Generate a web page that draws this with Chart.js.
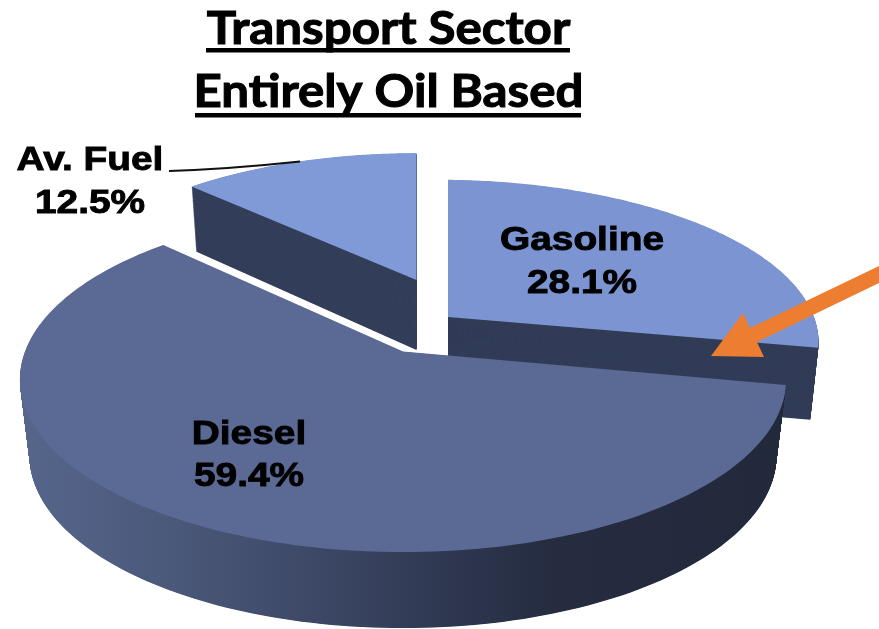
<!DOCTYPE html>
<html>
<head>
<meta charset="utf-8">
<style>html,body{margin:0;padding:0;background:#fff}canvas{display:block}</style>
<script src="https://cdn.jsdelivr.net/npm/chart.js@4"></script>
</head>
<body>
<canvas id="c" width="879" height="629"></canvas>
<script>
const categories = ['Gasoline', 'Diesel', 'Av. Fuel'];
const shares = [28.1, 59.4, 12.5];
const titleLines = ['Transport Sector', 'Entirely Oil Based'];
const topColors = ['#7c95d2', '#5a6a95', '#7f9ad6'];

// Perspective seen per slice (apex, radii, foreshortening, wall depth)
const views = [
  {cx: 448, cy: 317, rx: 377, ry: 159, p: .159, q: -.03, depth: 72, tilt: 0, shrink: .978, wall: '#323c57'},
  {cx: 403, cy: 351.5, rx: 378, ry: 168, p: .1626, q: 0, depth: 76, tilt: 0, shrink: .975, wall: 'grad'},
  {cx: 416.5, cy: 280, rx: 354, ry: 147, p: .159, q: 0, depth: 70, tilt: .054, shrink: .98, wall: '#343f5a'}
];
const labelSpots = [
  {x: 582, y1: 250, y2: 293},
  {x: 249, y1: 444, y2: 486},
  {x: 90, y1: 170, y2: 213}
];
const drawOrder = [0, 2, 1];

function project(v, a) {
  const u = Math.cos(a), n = Math.sin(a), w = 1 - v.p * n - v.q * u;
  return [v.cx + v.rx * u / w, v.cy + v.ry * n / w];
}
function outline(v, el) {
  const {startAngle, endAngle} = el.getProps(['startAngle', 'endAngle'], true);
  const pts = [[v.cx, v.cy]], steps = 160;
  for (let i = 0; i <= steps; i++) pts.push(project(v, startAngle + (endAngle - startAngle) * i / steps));
  return pts;
}
function fillPoly(ctx, pts) {
  ctx.beginPath();
  pts.forEach((p, i) => i ? ctx.lineTo(p[0], p[1]) : ctx.moveTo(p[0], p[1]));
  ctx.closePath();
  ctx.fill();
}
function stretchedText(ctx, text, x, y) {
  ctx.save();
  ctx.translate(x, y);
  ctx.scale(1.16, 1);
  ctx.font = 'bold 33.5px "Liberation Sans"';
  ctx.textAlign = 'center';
  ctx.fillStyle = '#000';
  ctx.strokeStyle = '#000';
  ctx.lineWidth = .9;
  ctx.strokeText(text, 0, 0);
  ctx.fillText(text, 0, 0);
  ctx.restore();
}
function titleText(ctx, text, x, y) {
  ctx.save();
  ctx.translate(x, y);
  ctx.scale(1.07, 1);
  ctx.font = 'bold 46px Lato';
  ctx.textAlign = 'center';
  ctx.fillStyle = '#000';
  ctx.strokeStyle = '#000';
  ctx.lineWidth = 1.1;
  ctx.strokeText(text, 0, 0);
  ctx.fillText(text, 0, 0);
  ctx.restore();
}

const pie3d = {
  id: 'pie3d',
  beforeDatasetsDraw(chart) {
    const ctx = chart.ctx, meta = chart.getDatasetMeta(0);
    const wallGrad = ctx.createLinearGradient(20, 0, 785, 0);
    wallGrad.addColorStop(0, '#56668c');
    wallGrad.addColorStop(.2, '#4a5879');
    wallGrad.addColorStop(.42, '#3a4562');
    wallGrad.addColorStop(.56, '#2f3750');
    wallGrad.addColorStop(.7, '#252c40');
    wallGrad.addColorStop(1, '#22293b');
    ctx.save();
    drawOrder.forEach(i => {
      const v = views[i], pts = outline(v, meta.data[i]);
      ctx.fillStyle = v.wall === 'grad' ? wallGrad : v.wall;
      const n = v.depth * 2;
      for (let s = n; s > 0; s--) {
        const t = s / n, k = 1 - (1 - v.shrink) * t;
        fillPoly(ctx, pts.map(p => [v.cx + (p[0] - v.cx) * k, p[1] + (v.depth + v.tilt * (p[1] - v.cy)) * t]));
      }
      ctx.fillStyle = meta.data[i].options.backgroundColor;
      fillPoly(ctx, pts);
    });
    ctx.restore();
    return false;
  },
  afterDraw(chart) {
    const ctx = chart.ctx;
    ctx.save();
    // title
    titleText(ctx, titleLines[0], 388.5, 44);
    titleText(ctx, titleLines[1], 388.5, 107);
    ctx.fillStyle = '#000';
    ctx.fillRect(206, 48, 364, 4.5);
    ctx.fillRect(195, 113, 386, 4.5);
    // leader line
    ctx.strokeStyle = '#111';
    ctx.lineWidth = 1.8;
    ctx.beginPath();
    ctx.moveTo(169, 171);
    ctx.quadraticCurveTo(230, 169, 300, 161.5);
    ctx.stroke();
    // labels
    categories.forEach((name, i) => {
      stretchedText(ctx, name, labelSpots[i].x, labelSpots[i].y1);
      stretchedText(ctx, shares[i].toFixed(1) + '%', labelSpots[i].x, labelSpots[i].y2);
    });
    // orange arrow
    ctx.fillStyle = '#ed7d31';
    fillPoly(ctx, [[879, 266], [750, 328], [743, 313], [711, 356], [764, 357], [757, 342], [879, 283]]);
    ctx.restore();
  }
};

new Chart(document.getElementById('c'), {
  type: 'pie',
  data: {labels: categories, datasets: [{data: shares, backgroundColor: topColors, borderWidth: 0}]},
  options: {
    responsive: false,
    animation: false,
    plugins: {legend: {display: false}, tooltip: {enabled: false}, title: {display: false}}
  },
  plugins: [pie3d]
});
</script>
</body>
</html>
